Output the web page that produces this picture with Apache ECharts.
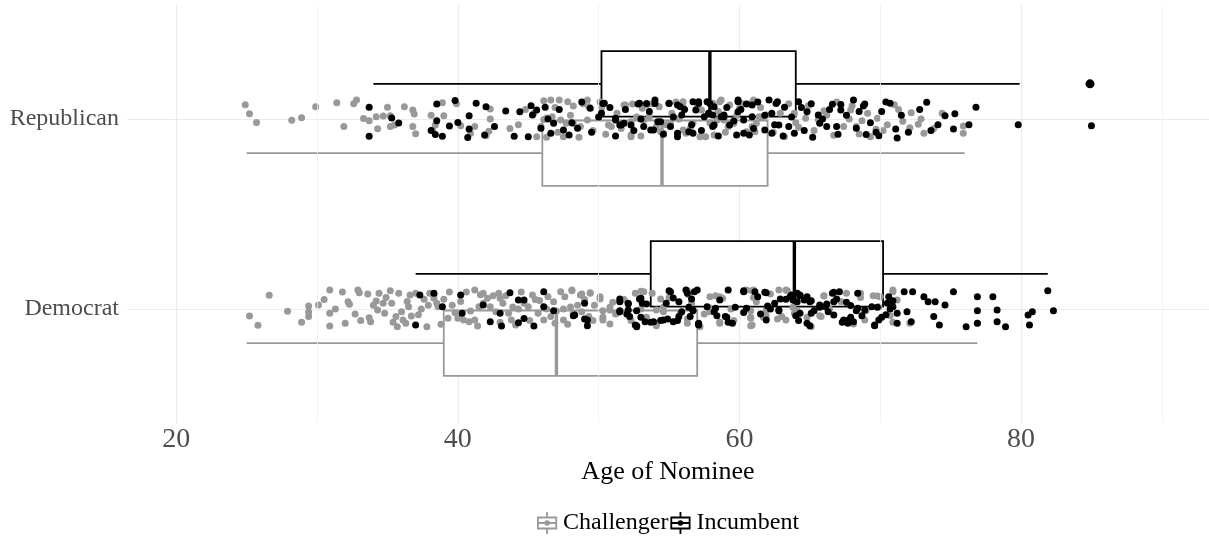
<!DOCTYPE html>
<html>
<head>
<meta charset="utf-8">
<title>Age of Nominee</title>
<script src="https://cdn.jsdelivr.net/npm/echarts@6/dist/echarts.min.js"></script>
<style>
  html, body { margin: 0; padding: 0; background: #fff; }
  #chart { width: 1209px; height: 539px; }
</style>
</head>
<body>
<div id="chart"></div>
<script>
// categories (y = 1, 2) and x ticks
const parties = ["Democrat", "Republican"];
const statuses = ["Challenger", "Incumbent"];
const xMajor = [20, 40, 60, 80];
const xMinor = [30, 50, 70, 90];

// box stats per party: [lower whisker, Q1, median, Q3, upper whisker]
const challengerBox = [
  [25.0, 39.0, 47.0, 57.0, 76.9],
  [25.0, 46.0, 54.5, 62.0, 76.0]
];
const incumbentBox = [
  [37.0, 53.7, 63.9, 70.2, 81.9],
  [34.0, 50.2, 57.9, 64.0, 79.9]
];
// outliers: [age, party index]
const incumbentOutliers = [[84.9, 1]];

// jittered points: [age, vertical jitter]
const demChallenger = [
  [25.2,-0.037],[25.8,-0.086],[26.6,0.072],[27.9,-0.012],[28.9,-0.07],[29.4,0.016],[29.4,-0.016],[29.4,-0.04],
  [30.1,0.021],[30.5,0.05],[30.9,0.1],[30.9,-0.023],[30.9,-0.089],[31.3,0.0],[31.8,0.09],[32.0,-0.075],
  [32.2,0.038],[32.3,0.025],[32.7,-0.026],[32.9,0.1],[33.0,0.086],[33.1,-0.06],[33.6,0.079],[33.8,-0.067],
  [33.7,-0.046],[34.0,0.02],[34.2,0.042],[34.3,-0.005],[34.4,0.083],[34.7,0.03],[34.8,-0.023],[34.9,0.06],
  [35.2,0.096],[35.3,0.03],[35.4,-0.07],[35.6,-0.04],[35.7,-0.093],[35.8,0.083],[36.0,-0.014],[36.1,-0.058],
  [36.3,-0.075],[36.4,0.04],[36.5,0.012],[36.6,0.074],[36.7,-0.037],[37.0,0.083],[37.2,-0.03],[37.4,0.0],
  [37.6,0.051],[37.8,-0.093],[37.9,0.02],[38.0,0.083],[38.3,0.074],[38.3,0.056],[38.5,0.03],[38.6,0.012],
  [38.8,-0.08],[39.0,0.051],[39.3,-0.049],[39.4,0.09],[39.6,0.02],[39.8,-0.02],[40.0,-0.049],[40.2,0.04],
  [40.4,-0.058],[40.6,0.09],[40.8,-0.067],[40.9,-0.01],[41.2,-0.058],[41.2,0.1],[41.4,-0.09],[41.6,0.075],
  [41.8,0.083],[42.1,0.056],[41.5,0.012],[41.8,0.03],[42.3,0.012],[42.5,0.07],[42.7,-0.014],[42.9,0.083],
  [43.0,0.056],[43.0,-0.07],[43.2,0.03],[43.4,0.07],[43.6,-0.023],[43.8,-0.058],[43.9,0.01],[44.1,-0.084],
  [44.3,0.0],[44.5,0.09],[44.7,0.03],[45.0,0.012],[45.1,-0.06],[45.3,0.074],[45.5,0.05],[45.7,-0.023],
  [45.8,0.045],[46.1,-0.058],[46.3,0.0],[46.4,0.065],[46.8,0.038],[47.0,-0.01],[47.3,0.091],[47.5,0.0],
  [47.6,0.065],[47.8,-0.08],[48.0,0.01],[48.1,0.1],[48.1,0.096],[48.5,0.02],[46.6,-0.04],[46.9,-0.075],
  [47.5,-0.058],[48.2,-0.023],[48.8,-0.014],[48.8,0.079],[49.0,0.05],[49.3,-0.04],[49.4,0.085],[49.6,-0.061],
  [48.7,0.074],[49.4,0.083],[49.7,0.02],[50.1,0.065],[50.1,0.053],[50.3,-0.058],[50.3,-0.009],[50.3,-0.044],
  [50.8,-0.005],[50.8,0.009],[50.8,-0.079],[51.0,0.035],[51.2,-0.026],[51.3,-0.023],[51.8,0.05],[52.3,-0.06],
  [52.6,0.083],[53.0,0.0],[53.0,0.093],[53.2,0.091],[53.4,-0.044],[53.8,0.083],[54.1,-0.005],[54.1,-0.088],
  [54.4,0.053],[54.6,-0.014],[54.6,0.009],[55.0,0.06],[55.8,-0.023],[56.3,-0.075],[56.3,0.096],[56.3,-0.053],
  [56.4,0.075],[56.6,0.03],[57.2,-0.093],[57.5,-0.026],[57.8,0.009],[57.9,-0.014],[58.3,0.07],[58.6,-0.075],
  [58.6,0.065],[58.6,-0.07],[57.9,0.065],[58.8,0.056],[59.4,0.0],[59.6,-0.061],[60.5,0.1],[60.8,-0.009],
  [60.8,-0.044],[60.8,-0.088],[60.9,0.096],[61.0,0.1],[61.0,0.06],[61.2,0.038],[61.7,-0.044],[60.8,-0.049],
  [60.9,-0.084],[61.9,-0.005],[61.9,-0.035],[62.2,0.079],[62.7,-0.053],[62.8,0.1],[63.3,0.1],[63.4,0.096],
  [63.0,-0.04],[63.3,-0.058],[63.8,0.009],[63.9,-0.023],[64.1,-0.009],[64.8,-0.044],[65.1,-0.093],[65.7,-0.035],
  [66.0,0.068],[66.0,0.07],[65.8,-0.04],[66.4,0.0],[67.2,0.04],[67.6,0.083],[68.1,-0.079],[68.6,0.083],
  [68.6,0.06],[68.9,-0.058],[69.0,-0.009],[69.5,0.07],[69.8,0.068],[69.9,0.012],[70.0,0.065],[70.7,-0.035],
  [70.9,0.091],[70.9,0.1],[70.9,-0.07],[71.2,0.047],[72.1,-0.075],[76.9,-0.075]
];
const demIncumbent = [
  [37.3,0.074],[37.0,-0.084],[38.3,0.083],[38.9,0.012],[40.2,0.074],[40.3,-0.023],[41.8,0.021],[42.3,-0.067],
  [43.0,-0.023],[43.1,-0.089],[43.7,0.086],[44.3,0.047],[44.7,0.047],[44.3,-0.072],[44.7,-0.05],[45.4,-0.089],
  [46.1,0.091],[46.1,0.012],[46.8,-0.009],[48.2,-0.035],[48.3,-0.032],[49.0,0.03],[49.0,-0.053],[49.2,-0.058],
  [49.2,-0.088],[51.5,0.038],[51.5,0.053],[51.5,-0.009],[52.0,-0.026],[52.1,0.03],[52.1,0.026],[51.5,-0.014],
  [52.1,-0.005],[52.2,-0.04],[52.6,-0.084],[52.7,-0.093],[52.7,-0.009],[52.7,-0.088],[52.9,0.053],[53.0,0.056],
  [53.0,-0.044],[53.1,0.03],[53.3,-0.067],[53.4,0.026],[53.7,-0.07],[53.9,-0.067],[54.4,-0.061],[54.6,-0.058],
  [54.9,-0.053],[55.0,0.096],[55.3,-0.067],[55.3,0.058],[55.1,0.091],[55.6,-0.061],[55.7,0.038],[56.3,0.083],
  [56.4,0.009],[56.6,0.053],[56.7,-0.009],[57.0,0.1],[54.8,0.03],[55.9,-0.014],[56.7,-0.005],[55.7,-0.04],
  [56.5,-0.04],[57.1,-0.084],[57.1,-0.079],[58.3,0.004],[58.4,-0.035],[57.7,0.012],[58.2,-0.014],[58.6,0.047],
  [59.1,-0.044],[59.2,-0.07],[59.2,0.1],[59.0,-0.04],[59.5,-0.075],[59.7,0.009],[57.1,-0.075],[56.2,0.1],
  [56.8,0.091],[60.3,0.091],[60.3,0.096],[60.3,-0.018],[60.5,0.004],[61.1,0.091],[61.3,0.065],[61.5,-0.026],
  [61.8,0.088],[61.9,0.086],[62.0,0.016],[62.2,0.0],[62.5,0.03],[61.9,-0.058],[62.8,-0.005],[62.8,-0.009],
  [62.9,0.053],[63.3,0.051],[63.6,0.065],[63.7,0.074],[63.8,0.06],[64.0,-0.035],[64.1,0.083],[64.2,-0.061],
  [64.3,0.074],[64.3,0.07],[63.8,0.047],[64.1,0.038],[64.6,0.047],[64.8,0.065],[65.0,0.038],[65.0,-0.088],
  [65.1,0.044],[64.8,-0.075],[64.3,-0.023],[65.1,-0.023],[65.3,-0.009],[65.7,0.021],[65.7,0.009],[66.1,0.012],
  [66.2,0.026],[66.6,0.083],[66.7,0.088],[66.9,0.053],[67.1,0.091],[66.7,0.038],[66.3,-0.014],[66.7,-0.032],
  [67.3,-0.07],[67.4,-0.058],[67.6,0.035],[67.6,-0.061],[67.7,-0.075],[67.9,0.018],[67.9,-0.044],[68.1,-0.067],
  [68.3,-0.009],[68.4,0.083],[68.4,0.004],[68.7,-0.035],[68.9,-0.005],[69.4,0.012],[69.6,-0.084],[69.6,-0.088],
  [69.8,0.009],[69.9,-0.058],[70.1,-0.044],[70.4,-0.03],[70.5,0.03],[70.6,0.065],[70.7,0.0],[70.9,0.012],
  [70.9,0.044],[71.2,-0.023],[71.2,-0.075],[71.7,0.091],[72.3,0.091],[71.9,-0.014],[72.2,-0.067],[73.1,0.065],
  [73.4,0.038],[73.9,0.038],[74.6,0.021],[75.2,0.091],[73.8,-0.04],[74.2,-0.084],[76.1,-0.093],[76.9,-0.075],
  [78.3,-0.067],[78.9,-0.093],[76.9,0.065],[78.0,0.065],[76.9,-0.009],[78.3,-0.005],[80.5,-0.032],[80.8,-0.014],
  [80.6,-0.084],[81.9,0.096],[82.3,-0.009]
];
const repChallenger = [
  [24.9,0.075],[25.2,0.028],[25.7,-0.019],[28.2,-0.007],[28.9,0.007],[29.9,0.065],[31.4,0.086],[31.9,-0.04],
  [32.6,0.08],[32.8,0.1],[33.3,0.002],[33.7,-0.009],[34.2,0.012],[34.3,-0.051],[34.7,0.016],[35.0,0.062],
  [35.2,0.017],[35.2,-0.04],[35.5,-0.032],[36.2,0.065],[36.8,0.047],[36.9,0.026],[36.8,-0.04],[37.0,-0.077],
  [38.1,0.02],[38.4,-0.032],[38.9,0.086],[39.0,0.017],[39.9,0.08],[38.2,-0.058],[40.2,-0.035],[41.2,-0.04],
  [40.9,-0.075],[42.3,0.053],[42.3,0.0],[42.2,-0.065],[42.0,-0.088],[43.7,-0.05],[44.3,-0.03],[44.8,0.05],
  [45.4,0.03],[45.9,-0.04],[46.1,0.096],[46.6,0.1],[46.9,0.06],[47.1,-0.07],[47.2,0.1],[46.1,-0.002],
  [46.3,0.005],[46.7,0.012],[47.3,-0.005],[47.7,-0.023],[47.8,0.091],[48.0,0.02],[48.2,0.068],[48.2,-0.025],
  [48.7,-0.04],[48.9,0.08],[49.2,0.1],[49.3,0.065],[49.2,-0.005],[49.6,-0.06],[45.6,-0.093],[46.3,-0.096],
  [47.5,-0.093],[48.6,-0.096],[50.1,0.09],[50.5,-0.08],[51.3,0.03],[51.6,-0.05],[51.8,0.074],[52.4,0.079],
  [52.7,0.01],[53.0,-0.09],[53.4,0.074],[53.8,0.08],[54.3,0.065],[54.8,-0.03],[55.5,0.09],[55.7,0.0],
  [56.0,0.065],[56.5,-0.05],[57.0,0.06],[57.9,-0.02],[58.5,0.04],[58.6,0.091],[59.0,-0.07],[59.3,0.074],
  [59.8,0.02],[60.2,0.08],[60.8,0.082],[52.3,-0.014],[53.2,-0.005],[54.1,-0.04],[54.6,-0.075],[55.1,-0.023],
  [56.0,-0.058],[56.7,-0.023],[57.2,-0.093],[58.2,-0.084],[58.9,-0.005],[59.6,-0.023],[60.5,-0.067],[61.2,-0.023],
  [61.7,0.012],[50.7,-0.032],[52.3,-0.084],[50.2,0.056],[50.9,-0.04],[51.9,0.074],[52.3,-0.093],[53.1,0.056],
  [53.6,0.012],[54.4,-0.067],[55.2,0.03],[56.0,0.091],[56.2,-0.075],[57.3,0.047],[57.6,-0.093],[58.1,0.083],
  [58.7,0.1],[58.4,-0.005],[59.2,-0.04],[60.0,0.056],[60.9,-0.04],[61.0,0.1],[61.1,-0.067],[61.4,0.012],
  [61.5,0.06],[61.9,0.021],[62.4,-0.07],[62.9,0.03],[63.2,-0.093],[63.5,0.08],[63.9,0.03],[64.0,-0.02],
  [64.2,-0.044],[64.7,0.004],[64.9,0.07],[65.3,-0.06],[65.6,-0.002],[66.0,0.044],[66.2,0.02],[66.7,-0.086],
  [66.9,0.09],[67.4,-0.04],[67.8,0.0],[67.9,0.047],[68.0,0.07],[68.3,-0.04],[68.5,-0.079],[68.7,-0.009],
  [69.1,0.03],[69.3,-0.093],[69.7,-0.054],[69.8,0.004],[70.2,-0.061],[70.5,-0.03],[71.0,0.075],[71.3,0.05],
  [71.6,-0.012],[72.1,-0.046],[72.2,0.033],[72.7,-0.028],[72.9,0.0],[73.1,-0.075],[73.8,-0.05],[74.4,0.03],
  [75.9,-0.037],[75.9,-0.075]
];
const repIncumbent = [
  [33.7,0.062],[33.7,-0.091],[35.3,0.005],[35.8,-0.021],[38.5,0.079],[38.5,-0.009],[38.1,-0.06],[38.4,-0.082],
  [38.9,-0.091],[39.4,-0.037],[40.0,-0.019],[39.8,0.098],[40.8,0.017],[40.8,-0.053],[40.7,-0.098],[41.3,0.083],
  [42.0,0.065],[41.9,-0.084],[42.6,-0.04],[43.4,0.042],[44.0,-0.091],[44.4,0.038],[45.0,-0.093],[45.2,0.07],
  [45.3,0.021],[45.6,0.047],[45.9,-0.049],[46.2,0.062],[46.4,0.0],[46.6,-0.075],[46.8,-0.023],[47.2,0.05],
  [47.5,-0.058],[47.9,-0.084],[48.1,-0.02],[48.5,-0.049],[48.8,0.09],[49.4,0.056],[49.5,-0.07],[50.0,0.01],
  [50.3,0.082],[50.2,0.03],[50.8,0.06],[51.2,-0.005],[51.5,-0.032],[51.8,-0.023],[51.9,0.05],[52.5,-0.06],
  [52.8,0.079],[53.0,0.0],[53.4,0.082],[53.6,0.04],[54.0,0.082],[53.2,-0.04],[53.9,-0.058],[54.4,-0.014],
  [54.6,-0.08],[55.0,0.082],[55.3,0.01],[55.6,0.074],[55.6,-0.075],[56.1,0.05],[56.4,-0.067],[56.6,-0.03],
  [56.7,0.091],[57.1,0.082],[57.3,-0.06],[57.8,0.03],[57.9,0.082],[58.2,0.065],[57.5,0.012],[58.2,-0.032],
  [58.5,-0.09],[58.7,0.012],[58.9,0.021],[59.1,0.06],[59.3,-0.032],[59.6,-0.01],[59.9,0.091],[60.1,0.05],
  [60.5,0.079],[60.3,-0.075],[59.9,0.038],[60.9,0.012],[61.0,-0.05],[61.3,0.09],[61.8,-0.058],[61.8,0.02],
  [62.3,0.03],[62.5,-0.03],[62.6,0.082],[50.4,0.083],[51.2,0.004],[51.2,-0.09],[51.6,-0.032],[52.3,-0.032],
  [52.9,0.083],[53.7,-0.058],[54.0,0.1],[54.2,-0.014],[55.0,0.083],[55.1,-0.04],[55.6,-0.093],[55.8,0.065],
  [55.9,0.021],[56.7,-0.075],[56.9,0.047],[57.1,0.091],[57.7,0.091],[58.1,0.021],[58.1,-0.04],[58.9,0.012],
  [59.8,-0.084],[59.9,0.1],[60.3,-0.005],[60.7,-0.084],[60.9,0.074],[62.1,0.1],[62.3,-0.075],[62.7,0.091],
  [62.8,-0.032],[63.1,-0.09],[63.2,0.062],[63.5,-0.04],[63.7,0.01],[63.9,-0.075],[64.2,0.091],[64.4,0.06],
  [64.6,-0.06],[64.8,0.038],[65.1,0.08],[65.2,-0.096],[65.6,0.021],[65.7,-0.023],[65.9,0.0],[66.2,-0.04],
  [66.4,0.05],[66.6,0.077],[66.9,-0.04],[67.0,-0.08],[67.2,0.076],[67.2,0.047],[67.6,0.02],[68.1,0.1],
  [68.3,-0.049],[68.5,0.04],[68.8,0.069],[68.9,0.079],[69.0,-0.082],[69.3,-0.02],[69.7,-0.07],[69.9,-0.088],
  [70.1,0.04],[70.4,0.09],[70.7,0.083],[71.1,-0.053],[71.2,-0.1],[71.5,0.02],[72.0,-0.07],[72.8,0.05],
  [73.3,0.088],[73.6,-0.06],[74.1,-0.03],[74.6,0.017],[75.3,0.028],[75.2,-0.053],[76.3,-0.03],[76.8,0.062],
  [79.8,-0.03],[85.0,-0.035]
];

const FONT = "Liberation Serif";
const GREY = "#999999";
const BLACK = "#000000";
const GRID = "#ebebeb";
const BOX_HALF = 0.172;

// legend key: box, median, whisker stubs and a dot
const KEY_ICON = "path://M11,0H13V6H11Z M11,18H13V24H11Z M1,5H23V7H1Z M1,17H23V19H1Z M1,5H3V19H1Z M21,5H23V19H21Z M1,11H23V13H1Z M15,12A3,3 0 1,1 9,12A3,3 0 1,1 15,12Z";

function boxRenderer(offset, color) {
  return function (params, api) {
    const yc = api.value(0) + offset;
    const lo = api.coord([api.value(1), yc]);
    const q1 = api.coord([api.value(2), yc]);
    const md = api.coord([api.value(3), yc]);
    const q3 = api.coord([api.value(4), yc]);
    const hi = api.coord([api.value(5), yc]);
    const h = api.size([0, BOX_HALF])[1];
    const line = { stroke: color, lineWidth: 1.8 };
    return {
      type: "group",
      children: [
        { type: "line", shape: { x1: lo[0], y1: lo[1], x2: q1[0], y2: q1[1] }, style: line },
        { type: "line", shape: { x1: q3[0], y1: q3[1], x2: hi[0], y2: hi[1] }, style: line },
        { type: "rect", shape: { x: q1[0], y: q1[1] - h, width: q3[0] - q1[0], height: 2 * h },
          style: { fill: "#fff", stroke: color, lineWidth: 1.8 } },
        { type: "line", shape: { x1: md[0], y1: md[1] - h, x2: md[0], y2: md[1] + h },
          style: { stroke: color, lineWidth: 3.4 } }
      ]
    };
  };
}

function boxData(stats) {
  return stats.map((s, i) => [i + 1].concat(s));
}

function pointData(dem, rep) {
  return dem.map(d => [d[0], 1 + d[1]]).concat(rep.map(d => [d[0], 2 + d[1]]));
}

const chart = echarts.init(document.getElementById("chart"));
chart.setOption({
  animation: false,
  backgroundColor: "#fff",
  textStyle: { fontFamily: FONT },
  grid: { left: 127, right: 0, top: 5, bottom: 116, containLabel: false },
  legend: {
    left: 537,
    top: 511,
    padding: 0,
    itemGap: 2,
    itemWidth: 22,
    itemHeight: 22,
    selectedMode: false,
    textStyle: { fontFamily: FONT, fontSize: 24, color: "#000" },
    data: [
      { name: statuses[0], icon: KEY_ICON, itemStyle: { color: GREY, borderWidth: 0 } },
      { name: statuses[1], icon: KEY_ICON, itemStyle: { color: BLACK, borderWidth: 0 } }
    ]
  },
  xAxis: {
    type: "value",
    min: 16.5,
    max: 93.35,
    axisLine: { show: false },
    axisTick: { show: false, customValues: xMajor },
    axisLabel: { customValues: xMajor, fontFamily: FONT, fontSize: 28, color: "#4d4d4d", margin: 3 },
    splitLine: { show: true, lineStyle: { color: GRID, width: 1.2 } },
    name: "Age of Nominee",
    nameLocation: "middle",
    nameGap: 29,
    nameTextStyle: { fontFamily: FONT, fontSize: 26, color: "#000" }
  },
  yAxis: {
    type: "value",
    min: 0.4,
    max: 2.6,
    axisLine: { show: false },
    axisTick: { show: false, customValues: [1, 2] },
    axisLabel: {
      customValues: [1, 2],
      formatter: v => parties[Math.round(v) - 1],
      fontFamily: FONT, fontSize: 24, color: "#4d4d4d", margin: 8
    },
    splitLine: { show: true, lineStyle: { color: GRID, width: 1.2 } }
  },
  series: [
    {
      // minor grid lines
      type: "scatter",
      data: [],
      z: 1,
      silent: true,
      markLine: {
        silent: true,
        symbol: ["none", "none"],
        label: { show: false },
        lineStyle: { color: "#f0f0f0", width: 0.8, type: "solid" },
        data: xMinor.map(v => ({ xAxis: v }))
      }
    },
    {
      name: statuses[0],
      type: "custom",
      z: 2,
      itemStyle: { color: GREY },
      renderItem: boxRenderer(-0.18, GREY),
      encode: { x: [1, 2, 3, 4, 5], y: 0 },
      data: boxData(challengerBox)
    },
    {
      name: statuses[1],
      type: "custom",
      z: 2,
      itemStyle: { color: BLACK },
      renderItem: boxRenderer(0.185, BLACK),
      encode: { x: [1, 2, 3, 4, 5], y: 0 },
      data: boxData(incumbentBox)
    },
    {
      name: statuses[1],
      type: "scatter",
      z: 3,
      symbolSize: 9,
      itemStyle: { color: BLACK, opacity: 1 },
      data: incumbentOutliers.map(o => [o[0], o[1] + 1 + 0.185])
    },
    {
      name: statuses[0],
      type: "scatter",
      z: 4,
      symbolSize: 7,
      itemStyle: { color: GREY, opacity: 1 },
      data: pointData(demChallenger, repChallenger)
    },
    {
      name: statuses[1],
      type: "scatter",
      z: 5,
      symbolSize: 7,
      itemStyle: { color: BLACK, opacity: 1 },
      data: pointData(demIncumbent, repIncumbent)
    }
  ]
});
window.addEventListener("resize", () => chart.resize());
</script>
</body>
</html>
